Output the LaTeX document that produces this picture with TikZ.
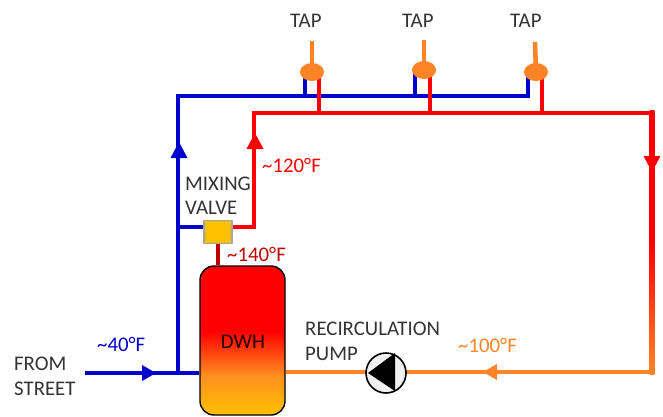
\documentclass[tikz,border=0pt]{standalone}
\usepackage{fontspec}
\setmainfont{Carlito}
\usetikzlibrary{calc,shapes.geometric,backgrounds}
\definecolor{pblue}{HTML}{0000CC}
\definecolor{pred}{HTML}{FF0000}
\definecolor{porange}{HTML}{FF8427}
\definecolor{pdark}{HTML}{C00000}
\definecolor{ptext}{HTML}{333333}
\definecolor{pgold}{HTML}{FFC000}
\definecolor{pmid}{HTML}{FF9020}
\pgfdeclareverticalshading{tankshade}{100bp}{color(0bp)=(pgold); color(25bp)=(pgold); color(38bp)=(pmid); color(53bp)=(red); color(100bp)=(red)}
\pgfdeclareverticalshading{returnshade}{100bp}{color(0bp)=(porange); color(25bp)=(porange); color(50bp)=(red); color(100bp)=(red)}
\tikzset{
  pipe/.style={line width=4.6pt},
  bluepipe/.style={pipe,draw=pblue},
  redpipe/.style={pipe,draw=pred},
  orangepipe/.style={pipe,draw=porange},
  tapbody/.style={ellipse,fill=porange,minimum width=24pt,minimum height=18pt,inner sep=0pt},
  lbl/.style={font=\fontsize{20.8}{20.8}\selectfont,text=ptext,inner sep=0pt,anchor=west},
  temp/.style={font=\fontsize{20.8}{20.8}\selectfont,inner sep=0pt,anchor=west},
}
\begin{document}
\begin{tikzpicture}[x=1pt,y=-1pt]
\useasboundingbox (0,0) rectangle (663,416);
\coordinate (bl) at (178,96);
\coordinate (bin) at (85,373);
\coordinate (bj) at (178,373);
\coordinate (bv) at (178,227);
\coordinate (rl) at (254,113);
\coordinate (rr) at (652,113);
\coordinate (rb) at (652,372);
\coordinate (rv) at (254,227);
\coordinate (b1) at (305,96);
\coordinate (b2) at (415,96);
\coordinate (b3) at (528,96);
\coordinate (r1) at (319,113);
\coordinate (r2) at (430,113);
\coordinate (r3) at (542,113);
\coordinate (t1) at (312,41);
\coordinate (t2) at (424,40);
\coordinate (t3) at (535,42);
% nodes
\node[draw=black,line width=1.4pt,rounded corners=14pt,shading=tankshade,minimum width=85pt,minimum height=149pt,inner sep=0pt] (tank) at (242.5,340.5) {};
\node[font=\fontsize{20.8}{20.8}\selectfont,text=black!85!red,inner sep=0pt] (dwh) at (243,342) {DWH};
\node[fill=pgold,draw=black!35,line width=1.6pt,minimum width=28pt,minimum height=23pt,inner sep=0pt] (valve) at (218,232) {};
\node[tapbody] (tap1) at (312,72) {};
\node[tapbody] (tap2) at (424,70) {};
\node[tapbody] (tap3) at (536,72) {};
\node[circle,draw=black,fill=black!6,line width=1.6pt,minimum size=40pt,inner sep=0pt] (pump) at (386,373) {};
\fill[black] (368,373) -- (395,353) -- (395,391) -- cycle;
% pipes
\begin{scope}[on background layer]
\draw[orangepipe] (t1) -- (tap1.center);
\draw[orangepipe] (t2) -- (tap2.center);
\draw[orangepipe] (t3) -- (tap3.center);
\draw[bluepipe] (bin) -- (tank.west |- bin);
\draw[bluepipe] (bj) -- (bl) -- (b3) -- (b3 |- tap3.center);
\draw[bluepipe] (b1) -- (b1 |- tap1.center);
\draw[bluepipe] (b2) -- (b2 |- tap2.center);
\draw[bluepipe] (bv) -- (valve.center |- bv);
\draw[redpipe] (valve.center |- rv) -- (rv) -- (rl) -- (rr);
\draw[redpipe] (r1) -- (r1 |- tap1.center);
\draw[redpipe] (r2) -- (r2 |- tap2.center);
\draw[redpipe] (r3) -- (r3 |- tap3.center);
\shade[shading=returnshade] ($(rr)+(-2.3,-2.3)$) rectangle ($(rb)+(2.3,2.3)$);
\draw[orangepipe] (rb) ++(2.3,0) -- (tank.east |- rb);
\draw[pipe,draw=pdark] (valve.south) -- (valve.south |- tank.north);
\end{scope}
% arrowheads
\fill[pblue] (179,142) -- (170.5,158) -- (187.5,158) -- cycle;
\fill[pred] (255,133) -- (246.5,149) -- (263.5,149) -- cycle;
\fill[pred] (652,172) -- (643.5,156) -- (660.5,156) -- cycle;
\fill[pblue] (156,373) -- (142,365) -- (142,381) -- cycle;
\fill[porange] (483,372) -- (497,364) -- (497,380) -- cycle;
% labels
\node[lbl] (l1) at (290,21) {TAP};
\node[lbl] (l2) at (402,21) {TAP};
\node[lbl] (l3) at (510,21) {TAP};
\node[temp,text=pred] (c120) at (262,165) {\textasciitilde120°F};
\node[lbl] (mix) at (185,184) {MIXING};
\node[lbl] (val) at (185,208) {VALVE};
\node[temp,text=pdark] (c140) at (227,254) {\textasciitilde140°F};
\node[lbl] (from) at (14,364) {FROM};
\node[lbl] (street) at (14,389) {STREET};
\node[temp,text=pblue] (c40) at (97,344) {\textasciitilde40°F};
\node[lbl] (rec) at (305,329) {RECIRCULATION};
\node[lbl] (pmp) at (305,354) {PUMP};
\node[temp,text=porange] (c100) at (458,345) {\textasciitilde100°F};
\end{tikzpicture}
\end{document}
